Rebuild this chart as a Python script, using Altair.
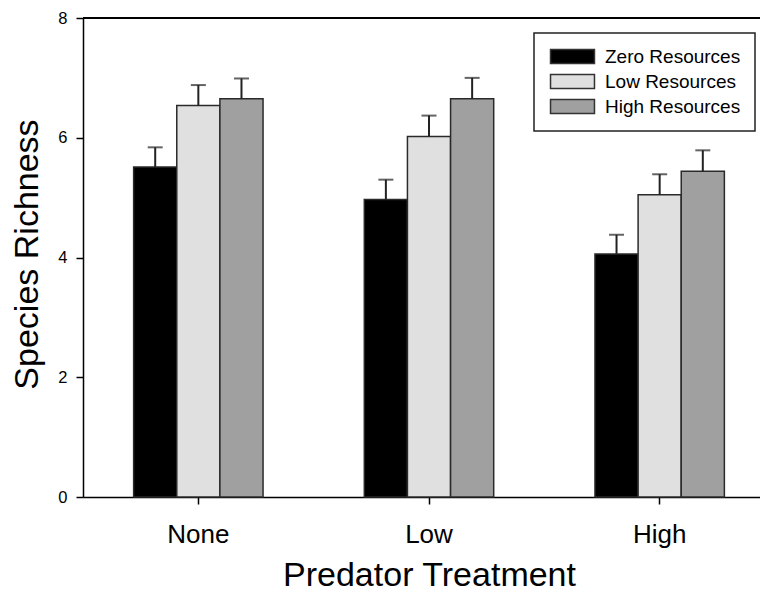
import altair as alt
import pandas as pd

predators = ["None", "Low", "High"]
resources = ["Zero Resources", "Low Resources", "High Resources"]
zero_means = [5.51, 4.97, 4.06]
low_means = [6.54, 6.02, 5.05]
high_means = [6.65, 6.65, 5.44]
zero_upper = [5.84, 5.30, 4.38]
low_upper = [6.88, 6.37, 5.39]
high_upper = [6.99, 7.00, 5.79]
colors = ["#000000", "#e0e0e0", "#a0a0a0"]
y_ticks = [0, 2, 4, 6, 8]

means = [zero_means, low_means, high_means]
uppers = [zero_upper, low_upper, high_upper]
rows = []
for ri, r in enumerate(resources):
    for pi, p in enumerate(predators):
        rows.append({"predator": p, "resource": r,
                     "mean": means[ri][pi], "upper": uppers[ri][pi]})
df = pd.DataFrame(rows)

FONT = "Liberation Sans"
W, H = 677, 479

x_scale = alt.Scale(paddingInner=0.439, paddingOuter=0.187, align=0.587)
x_axis = alt.Axis(title="Predator Treatment", labelAngle=0,
                  labelFontSize=26, labelFont=FONT, labelColor="#000",
                  labelBaseline="alphabetic", labelPadding=38,
                  tickSize=7, tickColor="#000", tickWidth=1.5,
                  domainColor="#000", domainWidth=1.5,
                  titleFontSize=34, titleFont=FONT, titleFontWeight="normal",
                  titleColor="#000", titleX=346, titleY=88,
                  titleBaseline="alphabetic", titleAnchor="start",
                  titleAlign="center")
x = alt.X("predator:N", sort=predators, scale=x_scale, axis=x_axis)
xo = alt.XOffset("resource:N", sort=resources,
                 scale=alt.Scale(paddingInner=0, paddingOuter=0))
y = alt.Y("mean:Q", scale=alt.Scale(domain=[0, 8], nice=False),
          axis=alt.Axis(title="Species Richness", values=y_ticks, grid=False,
                        format="d",
                        labelFontSize=16.5, labelFont=FONT, labelColor="#000",
                        labelPadding=9, tickSize=7, tickColor="#000",
                        tickWidth=1.5, domainColor="#000", domainWidth=1.5,
                        titleFontSize=34, titleFont=FONT, titleFontWeight="normal",
                        titleColor="#000", titleX=-46, titleY=236,
                        titleBaseline="alphabetic", titleAlign="center",
                        titleAnchor="start"))

color = alt.Color("resource:N", sort=resources,
                  scale=alt.Scale(domain=resources, range=colors),
                  legend=alt.Legend(title=None, orient="none", legendX=451,
                                    legendY=15, padding=14,
                                    strokeColor="#222",
                                    labelFontSize=19, labelFont=FONT,
                                    labelColor="#000", labelOffset=23,
                                    symbolType="M-3.14,-1H3.14V1H-3.14Z",
                                    symbolSize=196, symbolOffset=15,
                                    symbolStrokeColor="#333",
                                    symbolStrokeWidth=1.5, symbolOpacity=1,
                                    rowPadding=4))

bars = alt.Chart(df).mark_bar(stroke="#2a2a2a", strokeWidth=1.5).encode(
    x=x, xOffset=xo, y=y, color=color)

stems = alt.Chart(df).mark_rule(color="#222", strokeWidth=2).encode(
    x=alt.X("predator:N", sort=predators, scale=x_scale, axis=x_axis),
    xOffset=xo, y="mean:Q", y2="upper:Q")

caps = alt.Chart(df).mark_tick(color="#222", thickness=2, size=15,
                               orient="horizontal").encode(
    x=alt.X("predator:N", sort=predators, scale=x_scale, axis=x_axis),
    xOffset=xo, y="upper:Q")

top_line = alt.Chart(df).mark_rule(color="#000", strokeWidth=1.5).encode(
    y=alt.datum(8))

chart = alt.layer(bars, stems, caps, top_line).properties(
    width=W, height=H,
    autosize=alt.AutoSizeParams(type="none"),
    padding={"left": 75, "top": 10, "right": 0, "bottom": 95},
).configure_view(stroke=None).configure(background="white").configure_legend(
    strokeWidth=1.5)

chart.save("out.html", embed_options={"renderer": "svg", "actions": False})
